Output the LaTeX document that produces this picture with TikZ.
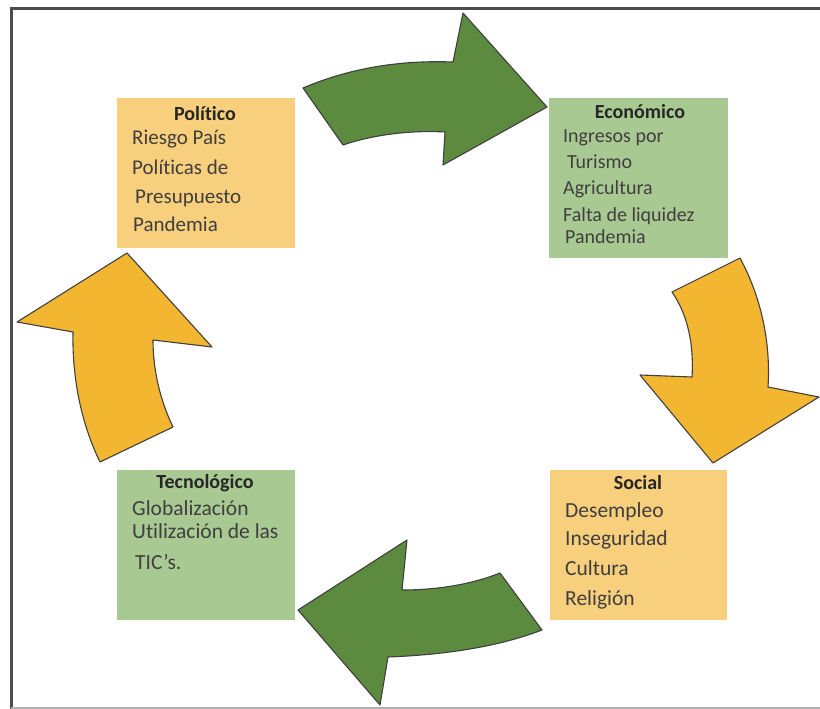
\documentclass[tikz,border=0pt]{standalone}
\usepackage{fontspec}
\setmainfont{Carlito}[RawFeature={-liga;-calt;-clig}]
\usepackage{tikz}
\usetikzlibrary{positioning}
\definecolor{boxgold}{HTML}{F8CF7C}
\definecolor{boxgreen}{HTML}{A9C992}
\definecolor{arrgold}{HTML}{F2B631}
\definecolor{arrgreen}{HTML}{5C8A3E}
\definecolor{txtgray}{HTML}{3F3F3F}
\newcommand{\fs}[1]{\fontsize{#1}{#1}\selectfont}

\begin{document}
\begin{tikzpicture}[x=1pt,y=-1pt,font=\fs{20},
  item/.style={anchor=mid west,inner sep=0pt,text=txtgray},
  head/.style={inner sep=0pt,text=black!85,font=\fs{20}\bfseries},
  bigarrow/.style={draw=black!75,line width=1.1pt,line join=round}]
  \useasboundingbox (0,0) rectangle (820,709);
  \fill[white] (0,0) rectangle (820,709);
  \draw[line width=3pt,black!70] (11.5,709) -- (11.5,8.5) -- (820,8.5);
  \draw[line width=2pt,black!30] (11,707.5) -- (820,707.5);

  % boxes
  \fill[boxgold] (117,98) rectangle (295,248);
  \node[head] (polT) at (205,114) {Político};
  \node[item,font=\fs{21}] (polA) at (132,142) {Riesgo País};
  \node[item,font=\fs{21}] (polB) at (132,172) {Políticas de};
  \node[item,font=\fs{21}] (polC) at (135,201) {Presupuesto};
  \node[item,font=\fs{21}] (polD) at (133,229) {Pandemia};

  \fill[boxgreen] (549,98) rectangle (728,258);
  \node[head] (ecoT) at (640,112) {Económico};
  \node[item] (ecoA) at (563,140) {Ingresos por};
  \node[item] (ecoB) at (567,166) {Turismo};
  \node[item] (ecoC) at (563,192) {Agricultura};
  \node[item] (ecoD) at (563,219) {Falta de liquidez};
  \node[item] (ecoE) at (565,241) {Pandemia};

  \fill[boxgreen] (117,470) rectangle (295,620);
  \node[head] (tecT) at (205,483) {Tecnológico};
  \node[item,font=\fs{21.5}] (tecA) at (132,513) {Globalización};
  \node[item,font=\fs{21.5}] (tecB) at (132,536) {Utilización de las};
  \node[item,font=\fs{21.5}] (tecC) at (135,567) {TIC’s.};

  \fill[boxgold] (550,470) rectangle (727,620);
  \node[head] (socT) at (638,483) {Social};
  \node[item,font=\fs{21.5}] (socA) at (565,515) {Desempleo};
  \node[item,font=\fs{21.5}] (socB) at (565,543) {Inseguridad};
  \node[item,font=\fs{21.5}] (socC) at (565,573) {Cultura};
  \node[item,font=\fs{21.5}] (socD) at (565,603) {Religión};

  % curved arrows
  \filldraw[bigarrow,fill=arrgreen] (303,88) .. controls (350,68) and (400,60) .. (453,62)
    -- (463,13) -- (547,107) -- (443,165) -- (445,132)
    .. controls (410,130) and (372,135) .. (343,145) -- cycle;
  \filldraw[bigarrow,fill=arrgold] (740,258) .. controls (760,295) and (771,340) .. (768,387)
    -- (819,397) -- (713,463) -- (640,375) -- (692,377)
    .. controls (694,345) and (688,315) .. (672,292) -- cycle;
  \filldraw[bigarrow,fill=arrgreen] (500,573) .. controls (470,585) and (435,590) .. (402,590)
    -- (407,540) -- (298,610) -- (380,705) -- (388,657)
    .. controls (440,655) and (495,648) .. (542,630) -- cycle;
  \filldraw[bigarrow,fill=arrgold] (173,427) .. controls (160,400) and (153,370) .. (153,340)
    -- (212,347) -- (127,253) -- (17,322) -- (73,332)
    .. controls (72,380) and (82,425) .. (100,462) -- cycle;
\end{tikzpicture}
\end{document}
